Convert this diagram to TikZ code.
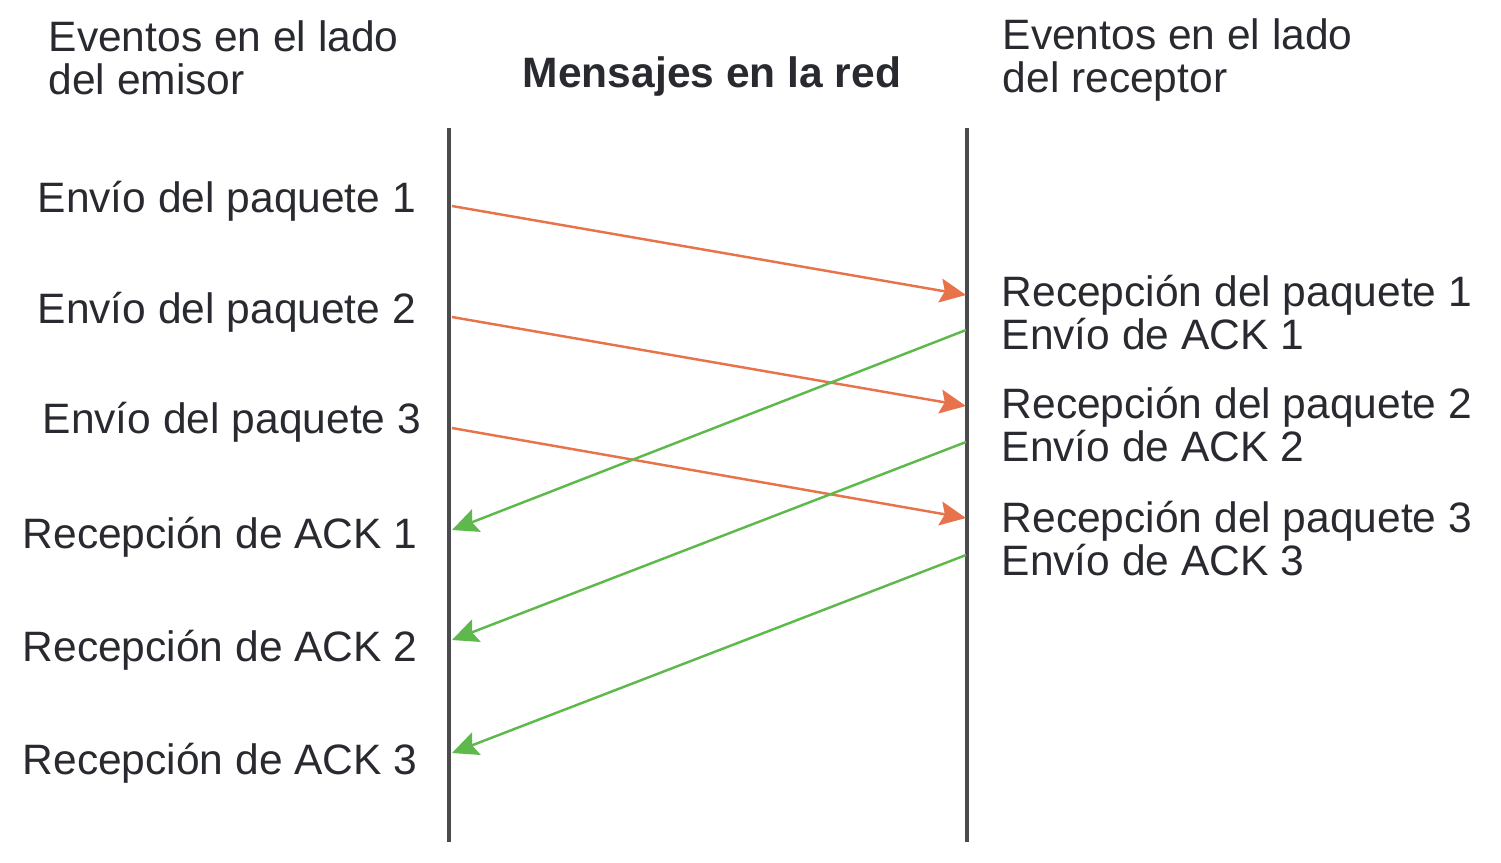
\documentclass[tikz,border=0pt]{standalone}
\usepackage{fontspec}
\setmainfont{Liberation Sans}
\usepackage{tikz}
\usetikzlibrary{arrows.meta}

\definecolor{textGray}{RGB}{40,42,48}
\definecolor{lineGray}{RGB}{75,75,78}
\definecolor{pktOrange}{RGB}{232,115,75}
\definecolor{ackGreen}{RGB}{93,185,76}

\begin{document}
\begin{tikzpicture}[
        evento/.style={anchor=base west, inner sep=0pt, align=left, text=textGray, font=\fontsize{12.1}{12.2}\selectfont},
        titulo/.style={anchor=base, inner sep=0pt, text=textGray, font=\fontsize{12.1}{12.2}\selectfont\bfseries},
        timeline/.style={draw=lineGray, line width=0.9pt},
        paquete/.style={-{Stealth[length=2.6mm, width=2.4mm, inset=0.45mm]}, line width=0.7pt, draw=pktOrange, color=pktOrange},
        ack/.style={-{Stealth[length=2.6mm, width=2.4mm, inset=0.45mm]}, line width=0.7pt, draw=ackGreen, color=ackGreen}
      ]
      \useasboundingbox (0,0) rectangle (15.01,-8.62);

      % cabeceras
      \node[evento] (emisorHdr) at (0.48,-0.94) {Eventos en el lado\\del emisor};
      \node[titulo] (redHdr) at (7.12,-0.87) {Mensajes en la red};
      \node[evento] (receptorHdr) at (10.02,-0.92) {Eventos en el lado\\del receptor};

      % lineas de tiempo
      \coordinate (emisorTop) at (4.49,-1.28);
      \coordinate (emisorBot) at (4.49,-8.42);
      \coordinate (receptorTop) at (9.67,-1.28);
      \coordinate (receptorBot) at (9.67,-8.42);
      \draw[timeline] (emisorTop) -- (emisorBot);
      \draw[timeline] (receptorTop) -- (receptorBot);

      % eventos del emisor
      \node[evento] (envio1) at (0.37,-2.12) {Envío del paquete 1};
      \node[evento] (envio2) at (0.37,-3.23) {Envío del paquete 2};
      \node[evento] (envio3) at (0.42,-4.33) {Envío del paquete 3};
      \node[evento] (recAck1) at (0.22,-5.48) {Recepción de ACK 1};
      \node[evento] (recAck2) at (0.22,-6.61) {Recepción de ACK 2};
      \node[evento] (recAck3) at (0.22,-7.74) {Recepción de ACK 3};

      % eventos del receptor
      \node[evento] (recPaq1) at (10.01,-3.49) {Recepción del paquete 1\\Envío de ACK 1};
      \node[evento] (recPaq2) at (10.01,-4.61) {Recepción del paquete 2\\Envío de ACK 2};
      \node[evento] (recPaq3) at (10.01,-5.75) {Recepción del paquete 3\\Envío de ACK 3};

      % puntos sobre las lineas
      \coordinate (txPaq1) at (4.52,-2.06);
      \coordinate (txPaq2) at (4.52,-3.17);
      \coordinate (txPaq3) at (4.52,-4.28);
      \coordinate (rxPaq1) at (9.66,-2.95);
      \coordinate (rxPaq2) at (9.66,-4.06);
      \coordinate (rxPaq3) at (9.66,-5.18);
      \coordinate (txAck1) at (9.66,-3.30);
      \coordinate (txAck2) at (9.66,-4.42);
      \coordinate (txAck3) at (9.66,-5.55);
      \coordinate (rxAck1) at (4.52,-5.30);
      \coordinate (rxAck2) at (4.52,-6.40);
      \coordinate (rxAck3) at (4.52,-7.53);

      \draw[paquete] (txPaq1) -- (rxPaq1);
      \draw[paquete] (txPaq2) -- (rxPaq2);
      \draw[paquete] (txPaq3) -- (rxPaq3);

      \draw[ack] (txAck1) -- (rxAck1);
      \draw[ack] (txAck2) -- (rxAck2);
      \draw[ack] (txAck3) -- (rxAck3);
    \end{tikzpicture}
\end{document}
